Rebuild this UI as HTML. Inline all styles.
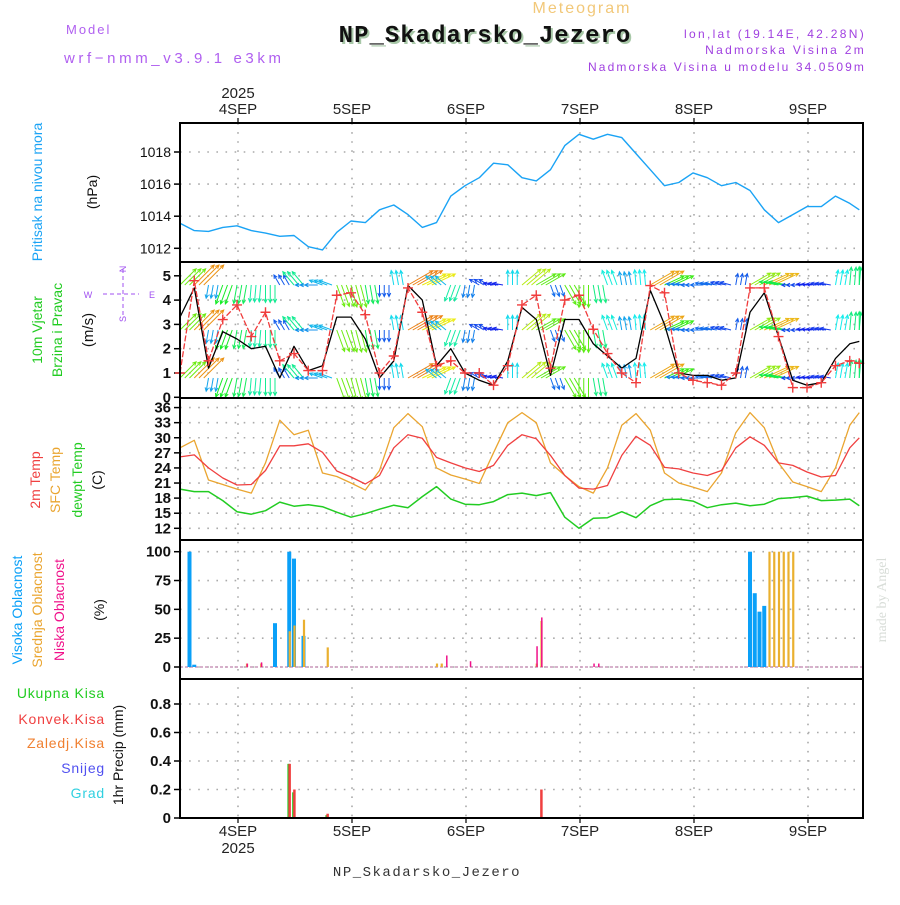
<!DOCTYPE html>
<html><head><meta charset="utf-8"><style>
body{margin:0;background:#fff;}
svg text{font-family:"Liberation Sans",sans-serif;}
</style></head><body>
<svg id="chart" width="900" height="900" viewBox="0 0 900 900" xmlns="http://www.w3.org/2000/svg">
<rect width="900" height="900" fill="#fff"/>
<text x="582" y="13" text-anchor="middle" font-size="16" fill="#f2c879" letter-spacing="2">Meteogram</text>
<text x="487" y="44" text-anchor="middle" font-size="24" font-weight="bold" fill="#a8c8a8" letter-spacing="1" style="font-family:'Liberation Mono',monospace">NP_Skadarsko_Jezero</text>
<text x="485" y="42" text-anchor="middle" font-size="24" font-weight="bold" fill="#111" letter-spacing="1" style="font-family:'Liberation Mono',monospace">NP_Skadarsko_Jezero</text>
<text x="66" y="34" font-size="13" fill="#b060f0" letter-spacing="2">Model</text>
<text x="64" y="63" font-size="15" fill="#b060f0" letter-spacing="3.6">wrf−nmm_v3.9.1 e3km</text>
<text x="866" y="38" text-anchor="end" font-size="12" fill="#a040e0" letter-spacing="2.3">lon,lat (19.14E, 42.28N)</text>
<text x="866" y="54" text-anchor="end" font-size="12" fill="#a040e0" letter-spacing="2.3">Nadmorska Visina 2m</text>
<text x="866" y="71" text-anchor="end" font-size="12" fill="#a040e0" letter-spacing="2.1">Nadmorska Visina u modelu 34.0509m</text>
<text x="427" y="876" text-anchor="middle" font-size="14" fill="#333" letter-spacing="1.5" style="font-family:'Liberation Mono',monospace">NP_Skadarsko_Jezero</text>
<text transform="translate(886,600) rotate(-90)" text-anchor="middle" font-size="14" fill="#d8ddd8" style="font-family:'Liberation Serif',serif">made by Angel</text>
<g id="left" font-size="14"></g>
<g id="plots"></g>
</svg>
<script>
// ---------- data ----------
const hours = [0,3,6,9,12,15,18,21,24,27,30,33,36,39,42,45,48,51,54,57,60,63,66,69,72,75,78,81,84,87,90,93,96,99,102,105,108,111,114,117,120,123,126,129,132,135,138,141,143];
const pressure = [1013.56,1013.1,1013.05,1013.3,1013.4,1013.1,1012.95,1012.75,1012.8,1012.1,1011.9,1013.0,1013.7,1013.6,1014.4,1014.7,1014.1,1013.3,1013.6,1015.25,1015.9,1016.4,1017.3,1017.2,1016.4,1016.2,1016.9,1018.4,1019.1,1018.8,1019.1,1018.9,1017.9,1016.9,1015.9,1016.1,1016.7,1016.4,1015.9,1016.1,1015.6,1014.4,1013.6,1014.1,1014.6,1014.6,1015.25,1014.8,1014.4];
const windSpeed = [3.3,4.5,1.2,2.7,2.4,2.0,2.1,0.8,2.1,1.1,1.3,3.3,3.3,2.4,0.8,1.5,4.6,4.0,1.3,2.0,1.0,0.7,0.5,1.5,3.7,3.2,0.9,3.2,3.2,2.2,1.7,1.2,1.6,4.4,3.0,1.0,0.9,0.9,0.7,0.8,3.5,4.3,2.5,0.7,0.5,0.6,1.6,2.2,2.3];
const windGust = [1.0,4.8,1.5,3.2,3.8,2.5,3.5,1.5,1.8,1.1,1.1,4.2,4.3,3.4,1.0,1.7,4.5,3.5,1.3,1.5,1.0,1.0,0.5,1.3,3.8,4.2,1.2,4.0,4.2,2.8,1.8,1.0,0.6,4.6,4.3,1.0,0.7,0.6,0.5,1.0,4.5,4.5,2.5,0.4,0.4,0.6,1.3,1.5,1.4];
const windAngle = [45,45,-100,-110,-100,-95,-90,120,130,180,160,-70,-75,-80,-90,100,30,25,140,-110,-100,150,170,90,40,30,-70,-60,-90,-80,110,100,95,30,25,175,180,170,165,80,30,25,170,180,175,170,80,85,90];
const temp2m = [26.2,26.6,24.0,22.0,20.6,20.7,23.5,28.4,28.4,28.8,27.1,23.4,22.2,20.8,22.5,28.0,30.6,29.9,26.1,25.0,24.0,23.3,24.5,28.5,30.6,29.8,26.5,22.5,20.0,19.8,20.5,26.5,30.3,28.5,24.1,23.8,23.0,22.5,23.5,28.0,30.2,28.5,25.0,24.5,23.2,22.2,22.5,28.0,30.0];
const tempSfc = [28.0,29.5,21.6,20.7,19.8,19.0,25.0,33.5,30.6,31.5,23.0,22.3,21.0,19.6,23.5,32.0,34.8,32.2,24.0,22.6,21.8,20.9,27.0,33.0,35.0,33.0,25.0,22.5,20.3,19.0,24.0,32.5,34.8,31.5,23.0,21.0,20.2,19.3,23.0,31.0,35.0,32.0,25.0,21.2,20.3,19.3,24.0,32.5,35.0];
const dewpt = [19.8,19.3,19.3,17.5,15.3,14.8,15.5,17.2,16.4,16.7,16.3,15.2,14.2,14.9,15.8,16.6,16.1,18.3,20.3,17.8,16.8,16.7,17.3,18.7,19.0,18.5,19.1,14.2,12.0,14.0,14.1,15.3,14.1,16.5,17.7,17.8,17.4,16.1,16.7,17.0,16.5,16.8,17.9,18.1,18.4,17.5,17.6,17.8,16.5];
const highCloudHours = [2,3,20,23,24,26,120,121,122,123];
const highCloudVals  = [100,2,38,100,94,27,100,64,48,53];
const midCloudHours = [14,17,23,24,26,31,54,55,75,76,124,125,126,127,128,129];
const midCloudVals  = [3,3,31,36,41,17,3,3,3,40,100,100,100,100,100,100];
const lowCloudHours = [14,17,56,61,75,76,87,88];
const lowCloudVals  = [3,4,10,5,18,43,3,3];
const precipHours = [23,24,31,55,76];
const precipTotal = [0.38,0.18,0.02,0.005,0.0];
const precipConv  = [0.38,0.20,0.03,0.0,0.2];
const dayLabels = ["4SEP","5SEP","6SEP","7SEP","8SEP","9SEP"];
const pTicks = [1012,1014,1016,1018];
const wTicks = [0,1,2,3,4,5];
const tTicks = [12,15,18,21,24,27,30,33,36];
const cTicks = [0,25,50,75,100];
const rTicks = [0,0.2,0.4,0.6,0.8];

// ---------- layout ----------
const NS="http://www.w3.org/2000/svg";
const X0=180,X1=863;
const xH = h => X0 + h*4.75;
const dayX = i => 238 + i*114;
const panels = [
 {name:"pressure",top:123,bot:262,y:v=>152-(v-1018)*16.05},
 {name:"wind",top:262,bot:398,y:v=>397.3-v*24.3},
 {name:"temperature",top:398,bot:540,y:v=>528.3-(v-12)*5.03},
 {name:"cloud",top:540,bot:679,y:v=>667-v*1.153},
 {name:"precip",top:679,bot:818,y:v=>818-v*142.5}];
const plots=document.getElementById('plots');
function el(tag,attrs,parent){const e=document.createElementNS(NS,tag);for(const k in attrs)e.setAttribute(k,attrs[k]);(parent||plots).appendChild(e);return e;}
const grid=el('g',{stroke:'#aaa','stroke-width':1.6,'stroke-dasharray':'1.6 7.5'});


function hgrid(p,ticks){for(const t of ticks){const y=p.y(t);if(y>p.top+2&&y<p.bot-2){const l=el('line',{x1:X0,x2:X1,y1:y,y2:y},grid);}}}
hgrid(panels[0],pTicks);hgrid(panels[1],wTicks);hgrid(panels[2],tTicks);hgrid(panels[3],cTicks);hgrid(panels[4],rTicks);
for(let i=0;i<dayLabels.length;i++){const l=el('line',{x1:dayX(i),x2:dayX(i),y1:123,y2:818},grid);}

function tickLabels(p,ticks,fmt,bold){for(const t of ticks){const y=p.y(t);
 const tk=el('line',{x1:X0-6,x2:X0,y1:y,y2:y,stroke:'#000','stroke-width':1.5});
 const tx=el('text',{x:X0-9,y:y+5,'text-anchor':'end','font-size':bold?15:14,'font-weight':bold?'bold':'normal',fill:'#111'});tx.textContent=fmt(t);
 }}
tickLabels(panels[0],pTicks,String,false);
tickLabels(panels[1],wTicks,String,true);
tickLabels(panels[2],tTicks,String,true);
tickLabels(panels[3],cTicks,String,true);
tickLabels(panels[4],rTicks,t=>t===0?'0':t.toFixed(1),true);

function line(p,arr,color,w,name){let d='';hours.forEach((h,i)=>{d+=(i?'L':'M')+xH(h).toFixed(1)+','+p.y(arr[i]).toFixed(1);});
 const e=el('path',{d,fill:'none',stroke:color,'stroke-width':w,'stroke-linejoin':'round'});return e;}

// pressure
line(panels[0],pressure,'#1aa3f5',1.4,'pressure-line');

// wind arrows
const arrows=el('g',{'stroke-width':1,fill:'none'});


const rowY=[285,330,378];
hours.forEach((h,i)=>{
 const sp=windSpeed[i];const ang=windAngle[i]*Math.PI/180;
 const hue = Math.max(0, 260 - sp*50);
 const col=`hsl(${hue},85%,50%)`;
 const len=8+sp*4.5;
 for(let r=0;r<3;r++){for(let k=0;k<3;k++){
  const hh=h+k; if(hh>143.5) continue;
  const x=xH(hh), y=rowY[r];
  const x2=x+Math.cos(ang)*len, y2=y-Math.sin(ang)*len;
  const a=el('path',{d:`M${x},${y}L${x2},${y2}M${x2-Math.cos(ang-0.45)*4},${y2+Math.sin(ang-0.45)*4}L${x2},${y2}L${x2-Math.cos(ang+0.45)*4},${y2+Math.sin(ang+0.45)*4}`,stroke:col},arrows);
  
  
 }}});
const clipW=el('clipPath',{id:'cw'});el('rect',{x:X0,y:263,width:X1-X0,height:134},clipW);
arrows.setAttribute('clip-path','url(#cw)');
line(panels[1],windSpeed,'#000',1.3,'wind-speed-line');
const gl=line(panels[1],windGust,'#f03c3c',1.3,'wind-gust-line');gl.setAttribute('stroke-dasharray','6 2');
hours.forEach((h,i)=>{const x=xH(h),y=panels[1].y(windGust[i]);
 const m=el('path',{d:`M${x-5},${y}H${x+5}M${x},${y-5}V${y+5}`,stroke:'#f03c3c','stroke-width':1.4});
 });

// temperature
line(panels[2],tempSfc,'#eaa530',1.3,'sfc-temp-line');
line(panels[2],temp2m,'#f04040',1.3,'2m-temp-line');
line(panels[2],dewpt,'#22cc22',1.5,'dewpoint-line');

// cloud
function bars(p,hrs,vals,off,w,color,name){hrs.forEach((h,i)=>{const x=xH(h)+off;const y=p.y(vals[i]);
 const b=el('rect',{x:x-w/2,y:y,width:w,height:Math.max(0.5,p.y(0)-y),fill:color});});}
const base=el('line',{x1:X0,x2:X1,y1:667,y2:667,stroke:'#c9b',"stroke-width":1.5,'stroke-dasharray':'3 2'});

bars(panels[3],highCloudHours,highCloudVals,0,4,'#0aa0f8','high-cloud-bar');
bars(panels[3],midCloudHours,midCloudVals,0.5,2.2,'#eab030','mid-cloud-bar');
bars(panels[3],lowCloudHours,lowCloudVals,0.8,1.5,'#f0108a','low-cloud-bar');

// precip
bars(panels[4],precipHours,precipTotal,-0.6,2.5,'#22cc22','total-precip-bar');
bars(panels[4],precipHours,precipConv,0.4,2.5,'#f04040','convective-precip-bar');

// panel borders
panels.forEach(p=>{const r=el('rect',{x:X0,y:p.top,width:X1-X0,height:p.bot-p.top,fill:'none',stroke:'#000','stroke-width':2});
 });

// day labels
dayLabels.forEach((d,i)=>{
 for(const [y,nm] of [[114,'top-day-label'],[836,'bottom-day-label']]){const t=el('text',{x:dayX(i),y,'text-anchor':'middle','font-size':15,fill:'#222'});t.textContent=d;}
 for(const [y1,y2] of [[118,123],[818,823]]){const tk=el('line',{x1:dayX(i),x2:dayX(i),y1,y2,stroke:'#000','stroke-width':1.2});}
});
for(const [y,nm] of [[98,'top-year-label'],[853,'bottom-year-label']]){const t=el('text',{x:238,y,'text-anchor':'middle','font-size':15,fill:'#222'});t.textContent='2025';}

// left vertical labels
const left=document.getElementById('left');
function vlab(x,y,txt,col,name,size){const t=el('text',{transform:`translate(${x},${y}) rotate(-90)`,'text-anchor':'middle','font-size':size||14,fill:col},left);t.textContent=txt;}
vlab(42,192,'Pritisak na nivou mora','#1aa3f5','pressure-title');
vlab(97,192,'(hPa)','#111','pressure-unit');
vlab(42,330,'10m Vjetar','#22cc22','wind-title-1');
vlab(62,330,'Brzina i Pravac','#22cc22','wind-title-2');
vlab(93,330,'(m/s)','#111','wind-unit',15);
vlab(40,480,'2m Temp','#f04040','temp2m-title');
vlab(60,480,'SFC Temp','#eaa530','sfc-temp-title');
vlab(82,480,'dewpt Temp','#22cc22','dewpt-title');
vlab(102,480,'(C)','#111','temp-unit');
vlab(22,610,'Visoka Oblacnost','#0aa0f8','high-cloud-title');
vlab(42,610,'Srednja Oblacnost','#eaa530','mid-cloud-title');
vlab(64,610,'Niska Oblacnost','#f0108a','low-cloud-title');
vlab(104,610,'(%)','#111','cloud-unit');
vlab(123,755,'1hr Precip (mm)','#111','precip-unit');
const leg=[['Ukupna Kisa','#22cc22',698],['Konvek.Kisa','#f04040',724],['Zaledj.Kisa','#f08030',748],['Snijeg','#5050f0',773],['Grad','#30d0e0',798]];
leg.forEach(([t,c,y])=>{const e=el('text',{x:105,y,'text-anchor':'end','font-size':14,fill:c,'letter-spacing':0.8},left);e.textContent=t;});
// compass
const comp=el('g',{fill:'#a050f0',stroke:'#a050f0','font-size':9},left);

el('line',{x1:103,x2:139,y1:294,y2:294,'stroke-dasharray':'4 3','stroke-width':1},comp);
el('line',{x1:123,x2:123,y1:269,y2:318,'stroke-dasharray':'4 3','stroke-width':1},comp);
[['W',88,298],['E',152,298],['N',123,272],['S',123,322]].forEach(([t,x,y])=>{const e=el('text',{x,y,'text-anchor':'middle',stroke:'none'},comp);e.textContent=t;if(t==='N'||t==='S')e.setAttribute('transform',`rotate(-90 ${x} ${y-3})`);});
</script>
</body></html>
